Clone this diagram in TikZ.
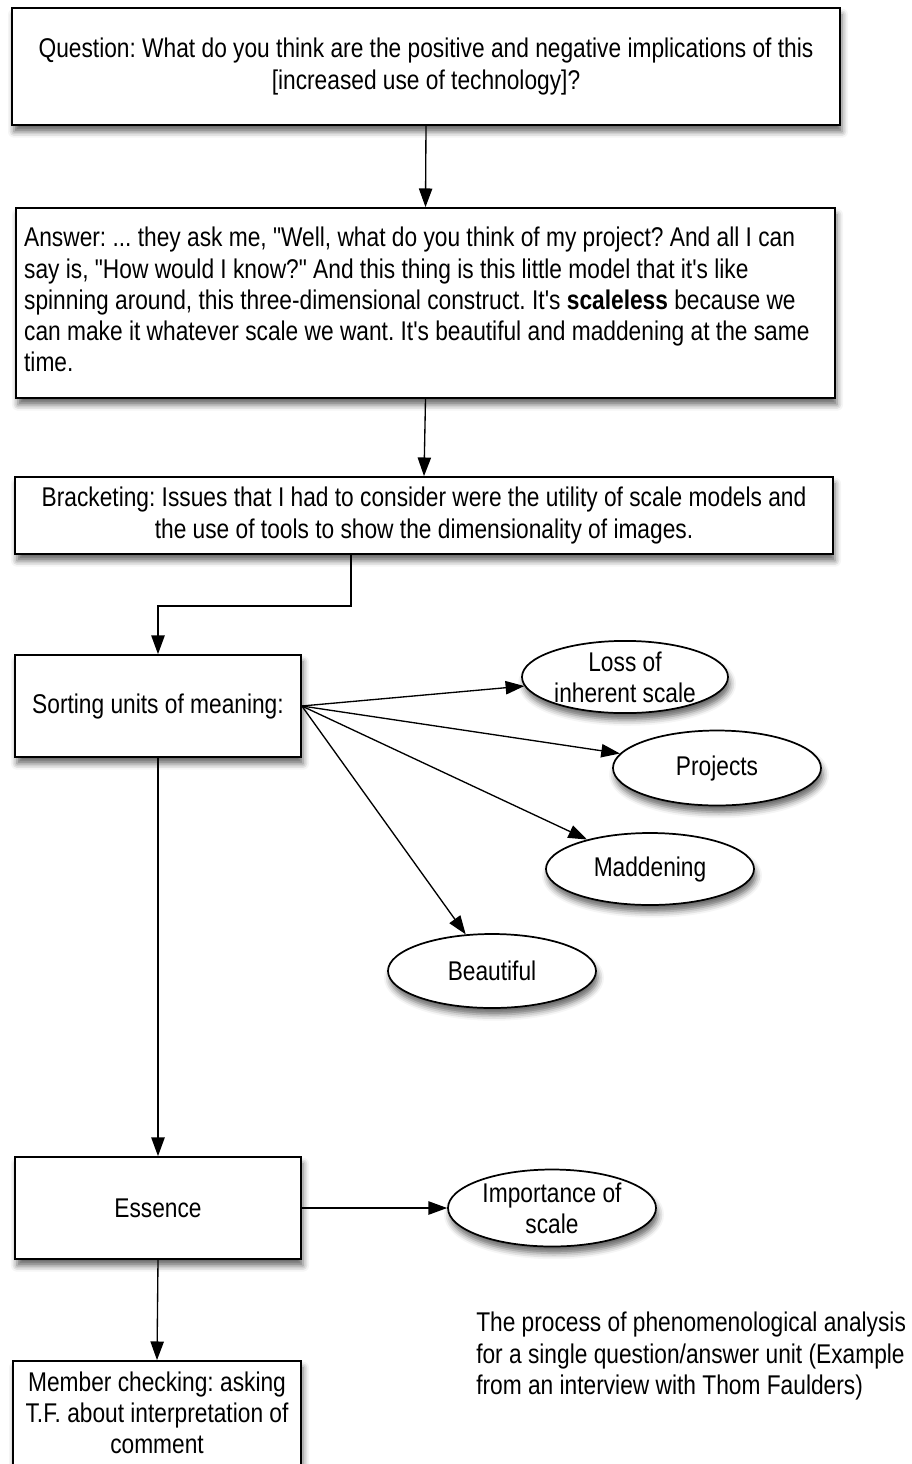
\documentclass[tikz,border=0pt]{standalone}
\usepackage{fontspec}
% narrow sans face, without TeX quote ligatures so that " and ' stay straight
\newfontfamily\narrowsans{Liberation Sans}[FakeStretch=0.84]
\usetikzlibrary{arrows.meta,shapes.geometric,shadows.blur}
\begin{document}
\frenchspacing
\begin{tikzpicture}[x=0.75pt,y=-0.75pt,
  font=\narrowsans\fontsize{20.3pt}{23.4pt}\selectfont,
  shade/.style={blur shadow={shadow xshift=1.5pt,shadow yshift=-5pt,shadow blur radius=4.5pt,shadow opacity=60}},
  box/.style 2 args={draw,line width=1.3pt,fill=white,shade,inner sep=0pt,
    minimum width=#1*0.75pt,minimum height=#2*0.75pt},
  oval/.style={ellipse,draw,line width=1.3pt,fill=white,shade,inner sep=0pt,
    minimum width=208*0.75pt,minimum height=72*0.75pt,align=center},
  arr/.style={line width=1pt,-{Triangle[length=14pt,width=10pt]}}]
\useasboundingbox (0,0) rectangle (911,1464);

% main chain of boxes
\node[box={828}{117},align=center] (q) at (426,66.5)
  {Question: What do you think are the positive and negative implications of this\\
   {[}increased use of technology{]}?};
\node[box={819}{190}] (a) at (425.5,303)
  {\raisebox{-2.2pt}{\makebox[602pt][l]{\begin{tabular}{@{}l@{}}
   Answer: ... they ask me, "Well, what do you think of my project? And all I can\\
   say is, "How would I know?" And this thing is this little model that it's like\\
   spinning around, this three-dimensional construct. It's \textbf{scaleless} because we\\
   can make it whatever scale we want. It's beautiful and maddening at the same\\
   time.\end{tabular}}}};
\node[box={818}{77},align=center] (b) at (424,515.5)
  {Bracketing: Issues that I had to consider were the utility of scale models and\\
   the use of tools to show the dimensionality of images.};
\node[box={286}{102}] (s) at (158,706) {Sorting units of meaning:};
\node[box={286}{102}] (e) at (158,1208) {Essence};
\node[box={288}{104},align=center] (m) at (157,1413)
  {Member checking: asking\\T.F. about interpretation of\\comment};

% units of meaning
\node[oval,minimum width=206*0.75pt,minimum height=68*0.75pt] (l) at (625,677) {Loss of\\inherent scale};
\node[oval,minimum height=75*0.75pt] (p) at (717,768) {Projects};
\node[oval] (md) at (650,869) {Maddening};
\node[oval,minimum height=74*0.75pt] (bt) at (492,971) {Beautiful};
\node[oval,minimum height=77*0.75pt] (i) at (552,1208) {Importance of\\scale};

% caption
\node[anchor=north west,align=left,inner sep=0pt] (c) at (476,1312)
  {The process of phenomenological analysis\\
   for a single question/answer unit (Example\\
   from an interview with Thom Faulders)};

% connectors
\draw[arr] (q.south) -- (a.north);
\draw[arr] (a.south) -- (b.north);
\draw[arr] ([xshift=-73*0.75pt]b.south) -- ++(0,51) -| (s.north);
\draw[arr] (s.east) -- (l);
\draw[arr] (s.east) -- (p);
\draw[arr] (s.east) -- (md);
\draw[arr] (s.east) -- (bt);
\draw[arr] (s.south) -- (e.north);
\draw[arr] (e.east) -- (i.west);
\draw[arr] (e.south) -- (m.north);
\end{tikzpicture}
\end{document}
